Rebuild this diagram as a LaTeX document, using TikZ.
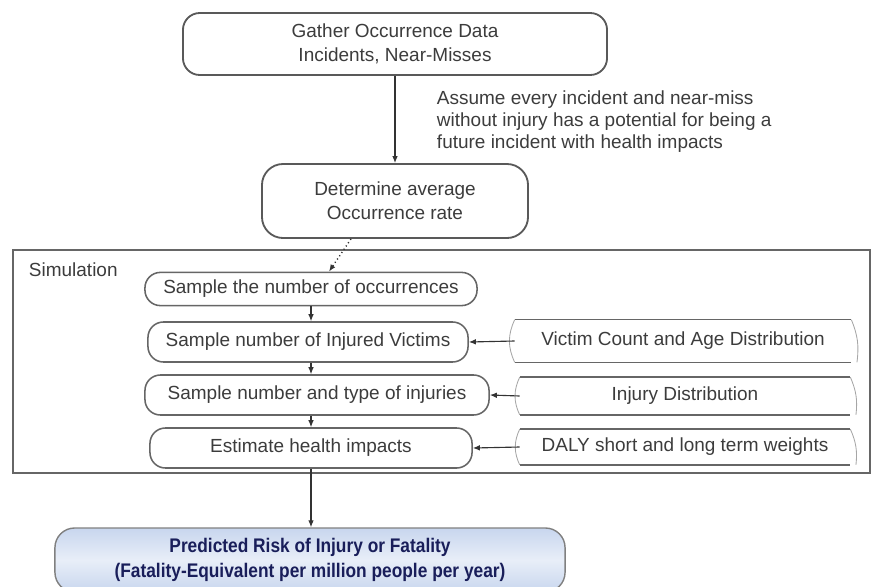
\documentclass[tikz,border=0pt]{standalone}
\usepackage{fontspec}
\setmainfont{Liberation Sans}
\newfontfamily\condfont[FakeStretch=0.88]{Liberation Sans}
\usetikzlibrary{arrows.meta}
\definecolor{inkgray}{RGB}{60,60,60}
\definecolor{navy}{RGB}{25,30,90}
\definecolor{paleblue}{RGB}{200,214,238}
\definecolor{mistblue}{RGB}{232,238,248}

\begin{document}
\begin{tikzpicture}[x=0.025cm, y=-0.025cm,
  txt/.style={font=\fontsize{13.5}{17}\selectfont, text=inkgray, align=center},
  topbox/.style={txt, rectangle, rounded corners=12pt, draw=black!65,
    line width=1.3pt, fill=white},
  stepbox/.style={txt, rectangle, rounded corners=11pt, draw=black!60,
    line width=1.1pt, fill=white, inner sep=2pt},
  databox/.style={txt, rectangle, inner sep=2pt},
  dataline/.style={draw=black!60, line width=1.1pt},
  dataside/.style={draw=black!35, line width=0.6pt},
  simframe/.style={rectangle, draw=black!60, line width=1.1pt},
  result/.style={rectangle, rounded corners=14pt, draw=black!50, line width=1pt,
    top color=paleblue, bottom color=paleblue, middle color=mistblue,
    font=\condfont\bfseries\fontsize{14}{18}\selectfont, text=navy, align=center},
  arr/.style={-{Latex[length=5pt,width=4pt]}, draw=black!80, line width=0.8pt},
  dotarr/.style={arr, dotted, line width=1pt},
]
\useasboundingbox (0,0) rectangle (872,586);

% Data gathering
\node[topbox, minimum width=10.6cm, minimum height=1.55cm] (gather) at (395,44)
  {Gather Occurrence Data\\Incidents, Near-Misses};
\node[topbox, rounded corners=15pt, minimum width=6.65cm, minimum height=1.85cm] (rate) at (395,201)
  {Determine average\\Occurrence rate};
\node[txt, align=left, anchor=north west, font=\fontsize{13.5}{15.6}\selectfont] (assume) at (432,86)
  {Assume every incident and near-miss\\without injury has a potential for being a\\future incident with health impacts};

% Simulation frame
\node[simframe, minimum width=21.425cm, minimum height=5.575cm] (sim) at (441.5,361.5) {};
\node[txt, anchor=west] (simlbl) at (24,270) {Simulation};

% Simulation steps
\node[stepbox, minimum width=8.3cm, minimum height=0.83cm] (occ) at (311,289) {Sample the number of occurrences};
\node[stepbox, minimum width=8cm, minimum height=1cm] (vic) at (308,342) {Sample number of Injured Victims};
\node[stepbox, minimum width=8.6cm, minimum height=1cm] (typ) at (317,395) {Sample number and type of injuries};
\node[stepbox, minimum width=8.05cm, minimum height=1cm] (est) at (311,448) {Estimate health impacts};

% Input data
\node[databox, minimum width=8.4cm, minimum height=1.05cm] (agedist) at (683,341) {Victim Count and Age Distribution};
\node[databox, minimum width=8.25cm, minimum height=0.93cm] (injdist) at (685,396) {Injury Distribution};
\node[databox, minimum width=8.25cm, minimum height=0.88cm] (daly) at (685,447) {DALY short and long term weights};
\foreach \d in {agedist, injdist, daly} {
  \draw[dataline] (\d.north west) -- (\d.north east);
  \draw[dataline] (\d.south west) -- (\d.south east);
  \draw[dataside] (\d.north west) to[bend right=25] (\d.south west);
  \draw[dataside] (\d.north east) to[bend left=15] ([xshift=4pt]\d.south east);
}

% Result
\node[result, minimum width=12.75cm, minimum height=1.6cm] (risk) at (310,560)
  {Predicted Risk of Injury or Fatality\\(Fatality-Equivalent per million people per year)};

% Connectors
\draw[arr] (gather.south) -- (rate.north);
\draw[dotarr] ([xshift=-1.1cm]rate.south) -- ([xshift=0.45cm]occ.north);
\draw[arr] (occ.south) -- (occ.south |- vic.north);
\draw[arr] (occ.south |- vic.south) -- (occ.south |- typ.north);
\draw[arr] (occ.south |- typ.south) -- (est.north);
\draw[arr] (est.south) -- (est.south |- risk.north);
\draw[arr] (agedist.west) -- (vic.east);
\draw[arr] (injdist.west) -- (typ.east);
\draw[arr] (daly.west) -- (est.east);

\end{tikzpicture}
\end{document}
